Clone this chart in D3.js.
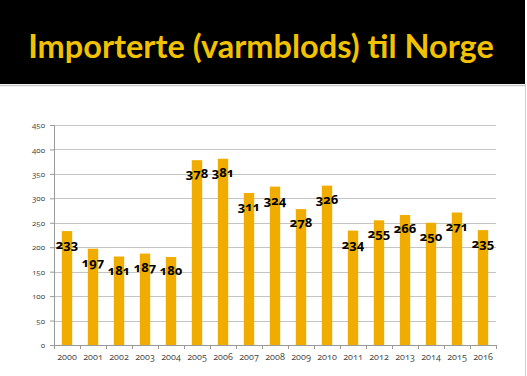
<!DOCTYPE html>
<html>
<head>
    <script src="https://d3js.org/d3.v7.min.js"></script>
    <style>
        body { margin: 0; background: #fff; }
        svg { display: block; }
        .title { font-family: Lato, "Open Sans", sans-serif; font-weight: bold; font-size: 32.5px; fill: #f2c200; }
        .tick text { font-family: "Open Sans", sans-serif; font-size: 8px; fill: #444;
                     font-variant-numeric: oldstyle-nums; }
        .x-axis .tick text { font-size: 9px; }
        .label { font-family: "Open Sans", sans-serif; font-weight: bold; font-size: 13px; fill: #000;
                 font-variant-numeric: oldstyle-nums; }
    </style>
</head>
<body>
<svg id="chart" width="527" height="376"></svg>
<script>
    const years = ["2000", "2001", "2002", "2003", "2004", "2005", "2006", "2007", "2008",
        "2009", "2010", "2011", "2012", "2013", "2014", "2015", "2016"];
    const imports = [233, 197, 181, 187, 180, 378, 381, 311, 324, 278, 326, 234, 255, 266, 250, 271, 235];
    const yTicks = [0, 50, 100, 150, 200, 250, 300, 350, 400, 450];

    const data = years.map((y, i) => ({ year: y, value: imports[i] }));

    const svg = d3.select("#chart");
    const width = +svg.attr("width");
    const height = +svg.attr("height");

    // slide frame + title band
    svg.append("rect").attr("x", 0).attr("y", 0).attr("width", width).attr("height", height)
        .attr("fill", "#fff");
    svg.append("rect").attr("x", 0).attr("y", 0).attr("width", 525).attr("height", 84)
        .attr("fill", "#000");
    svg.append("line").attr("x1", 0).attr("x2", 525).attr("y1", 85.5).attr("y2", 85.5)
        .attr("stroke", "#c8c8c8").attr("stroke-width", 1.5);
    svg.append("line").attr("x1", 525.5).attr("x2", 525.5).attr("y1", 84).attr("y2", height)
        .attr("stroke", "#d0d0d0");

    svg.append("text").attr("class", "title")
        .attr("x", 261).attr("y", 58)
        .attr("text-anchor", "middle")
        .text("Importerte (varmblods) til Norge");

    const margin = { top: 125, left: 54, right: 31, bottom: 31 };
    const plotW = width - margin.left - margin.right;
    const plotH = height - margin.top - margin.bottom;

    const g = svg.append("g").attr("transform", `translate(${margin.left},${margin.top})`);

    const x = d3.scaleBand().domain(years).range([0, plotW]).paddingInner(0.6).paddingOuter(0.3);
    const y = d3.scaleLinear().domain([0, 450]).range([plotH, 0]);

    // gridlines
    g.append("g").selectAll("line").data(yTicks.filter(d => d > 0)).join("line")
        .attr("x1", 0).attr("x2", plotW)
        .attr("y1", d => Math.round(y(d)) + 0.5).attr("y2", d => Math.round(y(d)) + 0.5)
        .attr("stroke", "#c4c4c4").attr("stroke-width", 1.2);

    const yAxis = g.append("g")
        .call(d3.axisLeft(y).tickValues(yTicks).tickSize(4).tickPadding(5));
    yAxis.select(".domain").attr("stroke", "#999");
    yAxis.selectAll(".tick line").attr("stroke", "#999");

    g.selectAll("rect.bar").data(data).join("rect")
        .attr("class", "bar")
        .attr("x", d => x(d.year))
        .attr("width", x.bandwidth())
        .attr("y", d => y(d.value))
        .attr("height", d => plotH - y(d.value))
        .attr("fill", "#f0ad00");

    const xAxis = g.append("g")
        .attr("class", "x-axis")
        .attr("transform", `translate(0,${plotH})`)
        .call(d3.axisBottom(x).tickSize(0).tickPadding(9));
    xAxis.select(".domain").attr("stroke", "#999");
    // category separator ticks
    xAxis.append("g").selectAll("line").data(d3.range(years.length + 1)).join("line")
        .attr("x1", i => Math.round(i * x.step()) + 0.5).attr("x2", i => Math.round(i * x.step()) + 0.5)
        .attr("y1", 0).attr("y2", 4)
        .attr("stroke", "#999");

    g.selectAll("text.label").data(data).join("text")
        .attr("class", "label")
        .attr("x", d => x(d.year) + x.bandwidth() / 2)
        .attr("y", d => y(d.value) + 18)
        .attr("text-anchor", "middle")
        .text(d => d.value);
</script>
</body>
</html>
